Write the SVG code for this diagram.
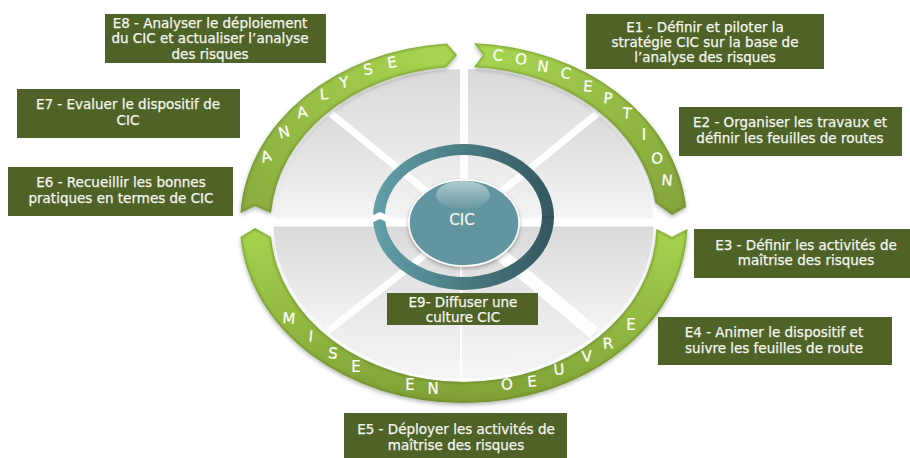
<svg xmlns="http://www.w3.org/2000/svg" xmlns:xlink="http://www.w3.org/1999/xlink" width="910" height="458" viewBox="0 0 910 458">
<style>
.box{fill:#4f6228}
.t{font-family:"DejaVu Sans","Liberation Sans",sans-serif;font-size:13.5px;fill:#f4f6ee;stroke:#f4f6ee;stroke-width:.25px;text-anchor:middle}
.l{font-family:"DejaVu Sans","Liberation Sans",sans-serif;font-size:15px;fill:#fff;stroke:#fff;stroke-width:.2px;text-anchor:middle}
.w{fill:url(#wedge)}
.gap{stroke:#fff;fill:none}
.bevel{fill:none;stroke:#5f7d24;stroke-opacity:.45;stroke-width:3.5;filter:url(#blur)}
</style>
<defs>
<linearGradient id="wedge" x1="0" y1="0" x2="0" y2="1"><stop offset="0" stop-color="#d9d9d9"/><stop offset="1" stop-color="#f6f6f6"/></linearGradient>
<linearGradient id="gA" gradientUnits="userSpaceOnUse" x1="245" y1="215" x2="450" y2="50"><stop offset="0" stop-color="#8aab3e"/><stop offset="1" stop-color="#a9d651"/></linearGradient>
<linearGradient id="gC" gradientUnits="userSpaceOnUse" x1="480" y1="50" x2="680" y2="210"><stop offset="0" stop-color="#a9d651"/><stop offset="1" stop-color="#85a43b"/></linearGradient>
<linearGradient id="gM" gradientUnits="userSpaceOnUse" x1="0" y1="232" x2="0" y2="403"><stop offset="0" stop-color="#a6d34f"/><stop offset="1" stop-color="#80a036"/></linearGradient>
<linearGradient id="ring" gradientUnits="userSpaceOnUse" x1="373" y1="0" x2="554" y2="0"><stop offset="0" stop-color="#62a0a8"/><stop offset="1" stop-color="#33575e"/></linearGradient>
<linearGradient id="gloss" x1="0" y1="0" x2="0" y2="1"><stop offset="0" stop-color="#fff" stop-opacity=".5"/><stop offset="1" stop-color="#fff" stop-opacity=".03"/></linearGradient>
<filter id="blur" x="-10%" y="-10%" width="120%" height="120%"><feGaussianBlur stdDeviation="1.2"/></filter>
<filter id="shadow" x="-10%" y="-10%" width="120%" height="130%"><feDropShadow dx="0" dy="2" stdDeviation="2" flood-color="#000" flood-opacity=".3"/></filter>
<path id="pA" d="M240.5 213A223.5 180 0 0 1 447 43.5L457 55L446 67.6A193 157.5 0 0 0 271 213L255 206Z"/>
<path id="pC" d="M474 43.3A223.5 180 0 0 1 686 207L672 215L655.5 203A193 157.5 0 0 0 474 67.3L483 55Z"/>
<path id="pM" d="M687.5 229A223.5 180 0 0 1 463.5 403A223.5 180 0 0 1 240.5 237L255 228L271 237A193 157.5 0 0 0 463.5 382A193 157.5 0 0 0 656.5 229L672 237Z"/>
<clipPath id="cA"><use xlink:href="#pA"/></clipPath>
<clipPath id="cC"><use xlink:href="#pC"/></clipPath>
<clipPath id="cM"><use xlink:href="#pM"/></clipPath>
</defs>
<rect width="910" height="458" fill="#fff"/>
<g id="disc">
<path class="w" d="M463.5 224L463.5 69A190 155 0 0 1 597.8 114.4Z"/>
<path class="w" d="M463.5 224L597.8 114.4A190 155 0 0 1 653.5 224Z"/>
<path class="w" d="M463.5 224L653.5 224A190 155 0 0 1 597.8 333.6Z"/>
<path class="w" d="M463.5 224L597.8 333.6A190 155 0 0 1 463.5 379Z"/>
<path class="w" d="M463.5 224L463.5 379A190 155 0 0 1 329.2 333.6Z"/>
<path class="w" d="M463.5 224L329.2 333.6A190 155 0 0 1 273.5 224Z"/>
<path class="w" d="M463.5 224L273.5 224A190 155 0 0 1 329.2 114.4Z"/>
<path class="w" d="M463.5 224L329.2 114.4A190 155 0 0 1 463.5 69Z"/>
<path class="gap" stroke-width="8" d="M268 222.5H660"/>
<path class="gap" stroke-width="8" d="M464 62V224"/>
<path class="gap" stroke-width="2" d="M461 224V382"/>
<path class="gap" stroke-width="7" d="M330 113L464 222L598 113"/>
<path class="gap" stroke-width="7" d="M328 331L464 224"/>
<path class="gap" stroke-width="13" d="M464 224L594 333"/>
</g>
<g id="connectors">
<g filter="url(#shadow)"><use xlink:href="#pA" fill="url(#gA)"/></g>
<use xlink:href="#pA" class="bevel" clip-path="url(#cA)"/>
<g filter="url(#shadow)"><use xlink:href="#pC" fill="url(#gC)"/></g>
<use xlink:href="#pC" class="bevel" clip-path="url(#cC)"/>
<g filter="url(#shadow)"><use xlink:href="#pM" fill="url(#gM)"/></g>
<use xlink:href="#pM" class="bevel" clip-path="url(#cM)"/>
</g>
<g id="arc-labels">
<text class="l" y="5.5" transform="translate(266 156) rotate(-15)">A</text>
<text class="l" y="5.5" transform="translate(284 132) rotate(-15)">N</text>
<text class="l" y="5.5" transform="translate(302 112) rotate(-10)">A</text>
<text class="l" y="5.5" transform="translate(324 94) rotate(-5)">L</text>
<text class="l" y="5.5" transform="translate(344 82) rotate(-10)">Y</text>
<text class="l" y="5.5" transform="translate(368 69) rotate(-10)">S</text>
<text class="l" y="5.5" transform="translate(392 62) rotate(-10)">E</text>
<text class="l" y="5.5" transform="translate(498 55) rotate(5)">C</text>
<text class="l" y="5.5" transform="translate(521 59) rotate(8)">O</text>
<text class="l" y="5.5" transform="translate(543 66) rotate(8)">N</text>
<text class="l" y="5.5" transform="translate(566 73) rotate(8)">C</text>
<text class="l" y="5.5" transform="translate(588 86) rotate(5)">E</text>
<text class="l" y="5.5" transform="translate(608 98) rotate(5)">P</text>
<text class="l" y="5.5" transform="translate(627 113) rotate(5)">T</text>
<text class="l" y="5.5" transform="translate(644 134) rotate(0)">I</text>
<text class="l" y="5.5" transform="translate(657 158) rotate(5)">O</text>
<text class="l" y="5.5" transform="translate(667 180) rotate(5)">N</text>
<text class="l" y="5.5" transform="translate(289 318) rotate(5)">M</text>
<text class="l" y="5.5" transform="translate(311 336) rotate(5)">I</text>
<text class="l" y="5.5" transform="translate(333 353) rotate(5)">S</text>
<text class="l" y="5.5" transform="translate(356 366) rotate(0)">E</text>
<text class="l" y="5.5" transform="translate(410 384) rotate(0)">E</text>
<text class="l" y="5.5" transform="translate(433 388) rotate(0)">N</text>
<text class="l" y="5.5" transform="translate(507 384) rotate(-5)">O</text>
<text class="l" y="5.5" transform="translate(532 381) rotate(-5)">E</text>
<text class="l" y="5.5" transform="translate(559 369) rotate(-5)">U</text>
<text class="l" y="5.5" transform="translate(587 356) rotate(-5)">V</text>
<text class="l" y="5.5" transform="translate(608 343) rotate(-5)">R</text>
<text class="l" y="5.5" transform="translate(631 324) rotate(0)">E</text>
</g>
<g id="ring-arrow">
<path fill="url(#ring)" fill-rule="evenodd" d="M373 217A90.5 73 0 1 1 554 217A90.5 73 0 1 1 373 217ZM385 216A78.5 61 0 1 0 542 216A78.5 61 0 1 0 385 216Z"/>
<path d="M542 217H554" stroke="#2b4c52" fill="none"/>
<path fill="#fff" d="M371 216L380 212L389 216V223L380 219L371 223Z"/>
</g>
<g id="cic">
<ellipse cx="464" cy="223" rx="55" ry="43" fill="#62959f" stroke="#fff" stroke-width="1.5" filter="url(#shadow)"/>
<ellipse cx="463" cy="195" rx="27" ry="14" fill="url(#gloss)"/>
<text class="t" x="462" y="225" style="font-size:15px">CIC</text>
</g>
<g id="e1"><rect class="box" x="586" y="14" width="238" height="55"/><text class="t" x="705" y="32">E1 - Définir et piloter la</text><text class="t" x="705" y="47">stratégie CIC sur la base de</text><text class="t" x="705" y="62">l’analyse des risques</text></g>
<g id="e2"><rect class="box" x="679" y="107" width="223" height="49"/><text class="t" x="790" y="127">E2 - Organiser les travaux et</text><text class="t" x="790" y="143">définir les feuilles de routes</text></g>
<g id="e3"><rect class="box" x="694" y="229" width="216" height="49"/><text class="t" x="806" y="250">E3 - Définir les activités de</text><text class="t" x="806" y="265">maîtrise des risques</text></g>
<g id="e4"><rect class="box" x="658" y="317" width="234" height="48"/><text class="t" x="774" y="337">E4 - Animer le dispositif et</text><text class="t" x="774" y="353">suivre les feuilles de route</text></g>
<g id="e5"><rect class="box" x="344" y="413" width="223" height="45"/><text class="t" x="456" y="434">E5 - Déployer les activités de</text><text class="t" x="456" y="450">maîtrise des risques</text></g>
<g id="e6"><rect class="box" x="8" y="167" width="225" height="49"/><text class="t" x="121" y="187">E6 - Recueillir les bonnes</text><text class="t" x="121" y="203">pratiques en termes de CIC</text></g>
<g id="e7"><rect class="box" x="17" y="89" width="223" height="49"/><text class="t" x="128" y="109">E7 - Evaluer le dispositif de</text><text class="t" x="128" y="125">CIC</text></g>
<g id="e8"><rect class="box" x="105" y="14" width="221" height="49"/><text class="t" x="210" y="28">E8 - Analyser le déploiement</text><text class="t" x="210" y="43">du CIC et actualiser l’analyse</text><text class="t" x="210" y="59">des risques</text></g>
<g id="e9"><rect class="box" x="387" y="293" width="151" height="32"/><text class="t" x="463" y="307">E9- Diffuser une</text><text class="t" x="463" y="322">culture CIC</text></g>
</svg>
